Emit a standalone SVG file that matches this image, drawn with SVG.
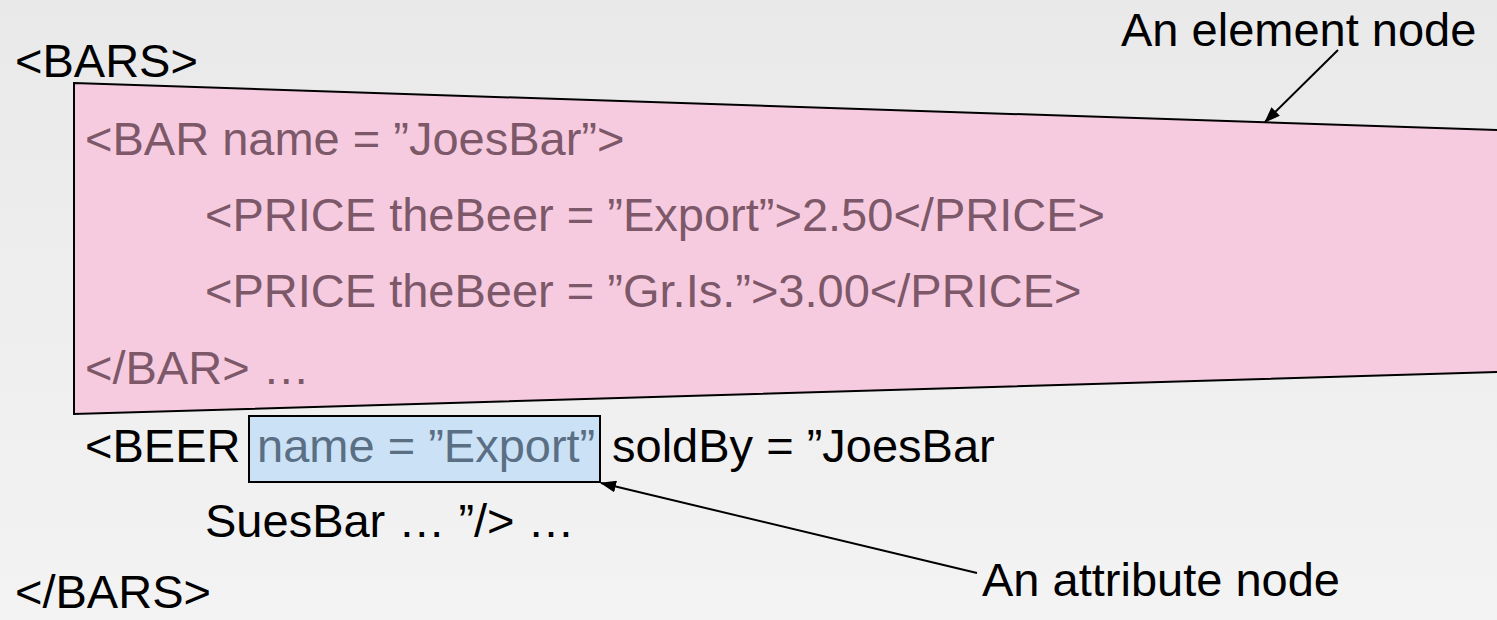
<svg xmlns="http://www.w3.org/2000/svg" width="1497" height="620" viewBox="0 0 1497 620">
  <defs>
    <linearGradient id="bg" x1="0" y1="0" x2="0" y2="1">
      <stop offset="0" stop-color="#e9e9e9"/>
      <stop offset="1" stop-color="#f3f3f3"/>
    </linearGradient>
    <marker id="arrow" viewBox="0 0 16 12" refX="15" refY="6" markerWidth="16" markerHeight="12" markerUnits="userSpaceOnUse" orient="auto">
      <path d="M0,0 L16,6 L0,12 Z" fill="#000"/>
    </marker>
    <style>
      .t { font-family: "Liberation Sans", Arial, Helvetica, sans-serif; font-size: 47px; fill: #000; }
      .pk { fill: #7c5869; }
      .bl { fill: #5b6f84; }
      .conn { stroke: #000; stroke-width: 2; fill: none; marker-end: url(#arrow); }
    </style>
  </defs>
  <rect x="0" y="0" width="1497" height="620" fill="url(#bg)"/>

  <g id="bars-open">
    <text class="t" x="15" y="77">&lt;BARS&gt;</text>
  </g>

  <g id="element-node">
    <polygon points="74,83 1499,130 1499,372 74,414" fill="#f6cbe0" stroke="#000" stroke-width="2"/>
    <text class="t pk" x="85" y="155">&lt;BAR name = ”JoesBar”&gt;</text>
    <text class="t pk" x="205" y="231">&lt;PRICE theBeer = ”Export”&gt;2.50&lt;/PRICE&gt;</text>
    <text class="t pk" x="205" y="307">&lt;PRICE theBeer = ”Gr.Is.”&gt;3.00&lt;/PRICE&gt;</text>
    <text class="t pk" x="85" y="384">&lt;/BAR&gt; …</text>
  </g>

  <g id="beer-line">
    <text class="t" x="85" y="462">&lt;BEER</text>
    <text class="t" x="612" y="462">soldBy = ”JoesBar</text>
    <text class="t" x="205" y="537">SuesBar … ”/&gt; …</text>
  </g>

  <g id="attribute-node">
    <rect x="249" y="416" width="351" height="66" fill="#cbe2f6" stroke="#000" stroke-width="2"/>
    <text class="t bl" x="257" y="462">name = ”Export”</text>
  </g>

  <g id="bars-close">
    <text class="t" x="15" y="608">&lt;/BARS&gt;</text>
  </g>

  <g id="label-element">
    <text class="t" x="1121" y="46">An element node</text>
  </g>
  <g id="label-attribute">
    <text class="t" x="982" y="596">An attribute node</text>
  </g>

  <g id="connectors">
    <line class="conn" x1="1338" y1="50" x2="1265" y2="122"/>
    <line class="conn" x1="977" y1="573" x2="601" y2="483"/>
  </g>
</svg>
